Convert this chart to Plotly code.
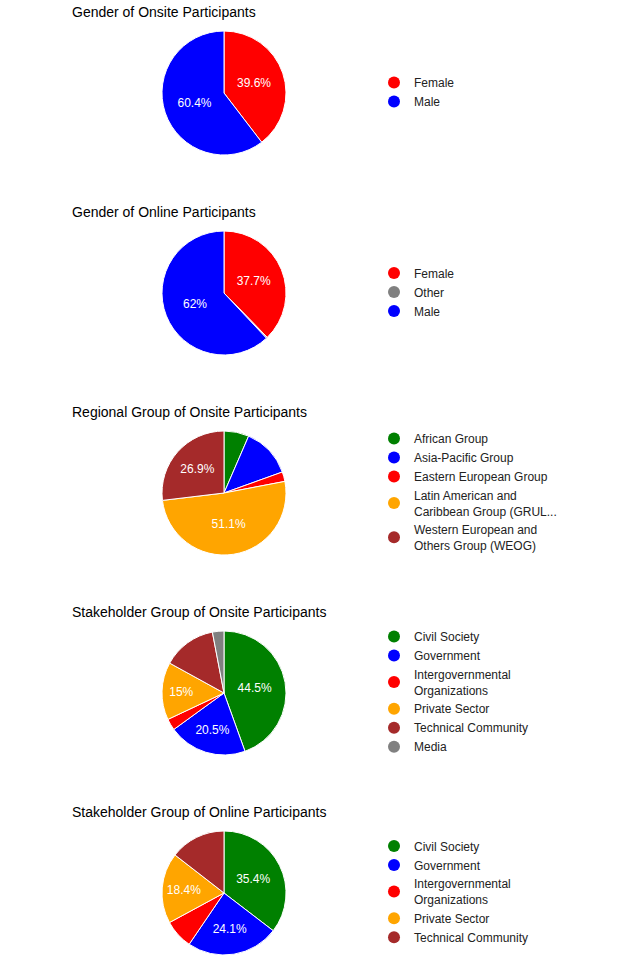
import plotly.graph_objects as go

W, H = 621, 967

# ---- data ----
titles = [
    "Gender of Onsite Participants",
    "Gender of Online Participants",
    "Regional Group of Onsite Participants",
    "Stakeholder Group of Onsite Participants",
    "Stakeholder Group of Online Participants",
]

gender_onsite_labels = ["Female", "Male"]
gender_onsite_values = [39.6, 60.4]
gender_onsite_colors = ["red", "blue"]

gender_online_labels = ["Female", "Other", "Male"]
gender_online_values = [37.7, 0.3, 62.0]
gender_online_colors = ["red", "gray", "blue"]

region_labels = [
    "African Group",
    "Asia-Pacific Group",
    "Eastern European Group",
    "Latin American and<br>Caribbean Group (GRUL...",
    "Western European and<br>Others Group (WEOG)",
]
region_values = [6.5, 13.0, 2.5, 51.1, 26.9]
region_colors = ["green", "blue", "red", "orange", "brown"]

stake_onsite_labels = [
    "Civil Society",
    "Government",
    "Intergovernmental<br>Organizations",
    "Private Sector",
    "Technical Community",
    "Media",
]
stake_onsite_values = [44.5, 20.5, 3.0, 15.0, 14.0, 3.0]
stake_onsite_colors = ["green", "blue", "red", "orange", "brown", "gray"]

stake_online_labels = [
    "Civil Society",
    "Government",
    "Intergovernmental<br>Organizations",
    "Private Sector",
    "Technical Community",
]
stake_online_values = [35.4, 24.1, 7.6, 18.4, 14.5]
stake_online_colors = ["green", "blue", "red", "orange", "brown"]

charts = [
    (gender_onsite_labels, gender_onsite_values, gender_onsite_colors),
    (gender_online_labels, gender_online_values, gender_online_colors),
    (region_labels, region_values, region_colors),
    (stake_onsite_labels, stake_onsite_values, stake_onsite_colors),
    (stake_online_labels, stake_online_values, stake_online_colors),
]

FONT = "Arial, 'Liberation Sans', sans-serif"
fig = go.Figure()

cx, r = 224, 62
block = 200
title_x = 70

for i, (labels, values, colors) in enumerate(charts):
    cy = 93 + i * block
    total = sum(values)
    texts = []
    for v in values:
        p = round(v / total * 100, 1)
        texts.append(f"{p:g}%" if p >= 15 else "")
    lg = "legend" if i == 0 else f"legend{i+1}"
    fig.add_trace(go.Pie(
        labels=labels, values=values, sort=False, direction="clockwise",
        rotation=0, text=texts, textinfo="text", textposition="inside",
        insidetextorientation="horizontal",
        insidetextfont=dict(color="white", size=12, family=FONT),
        marker=dict(colors=colors, line=dict(color="white", width=1)),
        showlegend=False, hoverinfo="label+percent",
        domain=dict(x=[(cx - r) / W, (cx + r) / W],
                    y=[1 - (cy + r) / H, 1 - (cy - r) / H]),
    ))
    for lab, col in zip(labels, colors):
        fig.add_trace(go.Scatter(
            x=[None], y=[None], mode="markers", name=lab,
            marker=dict(color=col, size=12, symbol="circle"),
            legend=lg, showlegend=True, hoverinfo="skip",
        ))
    fig.add_annotation(
        text=titles[i], x=title_x / W, y=1 - (12 + i * block) / H,
        xref="paper", yref="paper", xanchor="left", yanchor="middle",
        showarrow=False, font=dict(size=14, color="black", family=FONT),
    )
    fig.update_layout(**{lg: dict(
        x=374 / W, xanchor="left", y=1 - (cy - 1) / H, yanchor="middle",
        bgcolor="rgba(0,0,0,0)", font=dict(size=12, color="#222222", family=FONT),
        traceorder="normal", itemclick=False, itemdoubleclick=False,
    )})

fig.update_layout(
    width=W, height=H, margin=dict(l=0, r=0, t=0, b=0),
    paper_bgcolor="white", plot_bgcolor="white",
    xaxis=dict(visible=False), yaxis=dict(visible=False),
    font=dict(family=FONT),
)

fig.write_html("out.html")
